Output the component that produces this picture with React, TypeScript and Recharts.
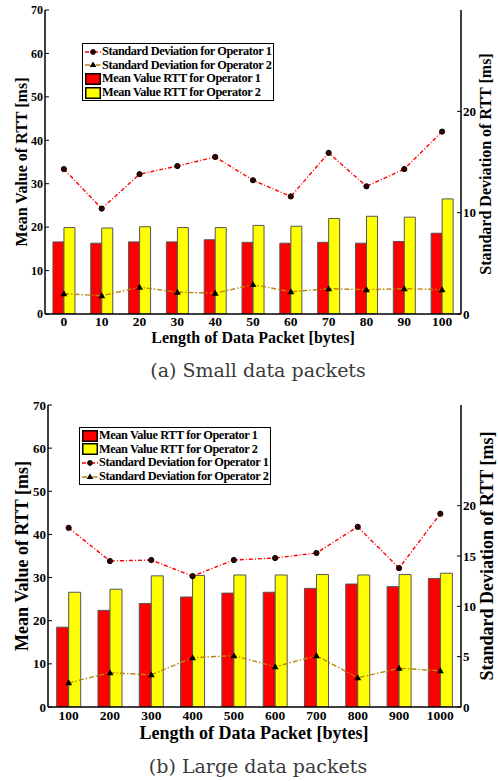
import React from 'react';
import { ComposedChart, Bar, Line, XAxis, YAxis, Legend } from 'recharts';

// (a) small packets
const smallSizes = ['0', '10', '20', '30', '40', '50', '60', '70', '80', '90', '100'];
const smallMean1 = [16.6, 16.3, 16.6, 16.6, 17.1, 16.5, 16.3, 16.5, 16.3, 16.7, 18.6];
const smallMean2 = [19.9, 19.8, 20.1, 19.9, 19.9, 20.4, 20.2, 22.0, 22.5, 22.3, 26.5];
const smallStd1 = [14.3, 10.4, 13.8, 14.6, 15.5, 13.2, 11.6, 15.9, 12.6, 14.3, 18.0];
const smallStd2 = [2.0, 1.8, 2.65, 2.15, 2.05, 2.9, 2.2, 2.5, 2.4, 2.5, 2.4];

// (b) large packets
const largeSizes = ['100', '200', '300', '400', '500', '600', '700', '800', '900', '1000'];
const largeMean1 = [18.5, 22.4, 24.0, 25.5, 26.4, 26.6, 27.5, 28.5, 27.9, 29.8];
const largeMean2 = [26.6, 27.3, 30.4, 30.5, 30.6, 30.6, 30.7, 30.6, 30.7, 31.0];
const largeStd1 = [17.8, 14.5, 14.6, 13.0, 14.6, 14.8, 15.3, 17.9, 13.8, 19.2];
const largeStd2 = [2.4, 3.4, 3.2, 4.9, 5.1, 4.0, 5.1, 2.9, 3.85, 3.6];

const leftTicks = [0, 10, 20, 30, 40, 50, 60, 70];
const smallRightTicks = [0, 10, 20];
const largeRightTicks = [0, 5, 10, 15, 20];

const FONT = '"Liberation Serif", "Times New Roman", serif';
const RED = '#ff0000';
const YELLOW = '#ffff00';
const GOLD = '#b8860b';
const DASH1 = '4 2 1 2';
const DASH2 = '5 2 1.5 2';

const buildRows = (sizes: string[], m1: number[], m2: number[], s1: number[], s2: number[]) =>
  sizes.map((size, i) => ({ size, mean1: m1[i], mean2: m2[i], std1: s1[i], std2: s2[i] }));

const CircleDot = (props: any) => {
  const { cx, cy, key } = props;
  if (cx == null || cy == null) return <g key={key} />;
  return <circle key={key} cx={cx} cy={cy} r={2.6} fill="#3a0000" stroke="#000" strokeWidth={1} />;
};

const TriangleDot = (props: any) => {
  const { cx, cy, key } = props;
  if (cx == null || cy == null) return <g key={key} />;
  return <path key={key} d={`M${cx},${cy - 3.5} L${cx + 3.5},${cy + 2.5} L${cx - 3.5},${cy + 2.5} Z`} fill="#000" />;
};

type LegendItem = { label: string; kind: 'std1' | 'std2' | 'mean1' | 'mean2' };

const LegendSymbol = ({ kind }: { kind: LegendItem['kind'] }) => {
  if (kind === 'mean1' || kind === 'mean2') {
    return (
      <svg width={16} height={12} style={{ display: 'block', marginRight: 1 }}>
        <rect x={0.75} y={0.75} width={14.5} height={10.5} fill={kind === 'mean1' ? RED : YELLOW} stroke="#000" strokeWidth={1.5} />
      </svg>
    );
  }
  const isOne = kind === 'std1';
  return (
    <svg width={16} height={12} style={{ display: 'block', marginRight: 1 }}>
      <line x1={0} y1={6} x2={16} y2={6} stroke={isOne ? RED : GOLD} strokeWidth={1.5} strokeDasharray={isOne ? DASH1 : DASH2} />
      {isOne ? (
        <circle cx={8} cy={6} r={2.4} fill="#3a0000" stroke="#000" />
      ) : (
        <path d="M8,2.5 L11.3,8 L4.7,8 Z" fill="#000" />
      )}
    </svg>
  );
};

const BoxLegend = ({ items }: { items: LegendItem[] }) => (
  <div
    style={{
      border: '1.5px solid #000',
      background: '#fff',
      padding: '1px 2px',
      fontFamily: FONT,
      fontWeight: 'bold',
      fontSize: 12.3,
      letterSpacing: -0.4,
      color: '#000',
      whiteSpace: 'nowrap',
    }}
  >
    {items.map((it) => (
      <div key={it.label} style={{ display: 'flex', alignItems: 'center', height: 13.6 }}>
        <LegendSymbol kind={it.kind} />
        <span>{it.label}</span>
      </div>
    ))}
  </div>
);

const std1Label = 'Standard Deviation for Operator 1';
const std2Label = 'Standard Deviation for Operator 2';
const mean1Label = 'Mean Value RTT for Operator 1';
const mean2Label = 'Mean Value RTT for Operator 2';

interface RttChartProps {
  rows: ReturnType<typeof buildRows>;
  rightTicks: number[];
  legendItems: LegendItem[];
  legendPos: { left: number; top: number };
  margin: { top: number; right: number; bottom: number; left: number };
  leftWidth: number;
  height: number;
  xTickMargin: number;
  leftTickSize: number;
}

const RttChart = ({ rows, rightTicks, legendItems, legendPos, margin, leftWidth, height, xTickMargin, leftTickSize }: RttChartProps) => (
  <ComposedChart width={498} height={height} data={rows} margin={margin} barGap={0} barCategoryGap="21%">
    <XAxis
      dataKey="size"
      tickLine={false}
      axisLine={{ stroke: '#000', strokeWidth: 1.5 }}
      tick={{ fill: '#000', fontFamily: FONT, fontWeight: 'bold', fontSize: 13.5 }}
      tickSize={0}
      tickMargin={xTickMargin}
      height={18}
      interval={0}
    />
    <XAxis xAxisId="top" dataKey="size" orientation="top" height={0} tick={false} tickLine={false} axisLine={{ stroke: '#000', strokeWidth: 1.2 }} />
    <YAxis
      yAxisId="left"
      domain={[0, 70]}
      ticks={leftTicks}
      width={leftWidth}
      tickSize={-4}
      tickMargin={6}
      tickLine={{ stroke: '#000' }}
      axisLine={{ stroke: '#000', strokeWidth: 1.5 }}
      tick={{ fill: '#000', fontFamily: FONT, fontWeight: 'bold', fontSize: leftTickSize }}
      allowDataOverflow
    />
    <YAxis
      yAxisId="mirror"
      orientation="right"
      domain={[0, 70]}
      ticks={leftTicks}
      width={0}
      tickSize={-4}
      tickLine={{ stroke: '#000' }}
      axisLine={false}
      tickFormatter={() => ''}
    />
    <YAxis
      yAxisId="right"
      orientation="right"
      domain={[0, 30]}
      ticks={rightTicks}
      width={30}
      tickSize={-4}
      tickMargin={6}
      tickLine={{ stroke: '#000' }}
      axisLine={{ stroke: '#000', strokeWidth: 1.5 }}
      tick={{ fill: '#000', fontFamily: FONT, fontWeight: 'bold', fontSize: 13, textAnchor: 'start' }}
      allowDataOverflow
    />
    <Legend
      layout="vertical"
      align="center"
      verticalAlign="middle"
      wrapperStyle={{ left: legendPos.left, top: legendPos.top, width: 'auto', height: 'auto' }}
      content={() => <BoxLegend items={legendItems} />}
    />
    <Bar yAxisId="left" dataKey="mean1" name={mean1Label} fill={RED} stroke="#555" strokeWidth={1} isAnimationActive={false} />
    <Bar yAxisId="left" dataKey="mean2" name={mean2Label} fill={YELLOW} stroke="#555" strokeWidth={1} isAnimationActive={false} />
    <Line
      yAxisId="right"
      type="linear"
      dataKey="std1"
      name={std1Label}
      stroke={RED}
      strokeWidth={1.4}
      strokeDasharray={DASH1}
      dot={CircleDot}
      activeDot={false}
      isAnimationActive={false}
    />
    <Line
      yAxisId="right"
      type="linear"
      dataKey="std2"
      name={std2Label}
      stroke={GOLD}
      strokeWidth={1.4}
      strokeDasharray={DASH2}
      dot={TriangleDot}
      activeDot={false}
      isAnimationActive={false}
    />
  </ComposedChart>
);

const titleStyle = (x: number, y: number, size: number, rotate: boolean): React.CSSProperties => ({
  position: 'absolute',
  left: x,
  top: y,
  transform: `translate(-50%, -50%)${rotate ? ' rotate(-90deg)' : ''}`,
  fontFamily: FONT,
  fontWeight: 'bold',
  fontSize: size,
  whiteSpace: 'nowrap',
  color: '#000',
  lineHeight: 1,
});

const captionStyle = (x: number, y: number): React.CSSProperties => ({
  position: 'absolute',
  left: x,
  top: y,
  transform: 'translate(-50%, -50%)',
  fontFamily: '"DejaVu Serif", serif',
  fontSize: 19,
  color: '#3a3a3a',
  whiteSpace: 'nowrap',
  lineHeight: 1,
});

export default function App() {
  const smallRows = buildRows(smallSizes, smallMean1, smallMean2, smallStd1, smallStd2);
  const largeRows = buildRows(largeSizes, largeMean1, largeMean2, largeStd1, largeStd2);

  return (
    <div style={{ position: 'absolute', left: 0, top: 0, width: 498, height: 781, background: '#fff' }}>
      <div style={{ position: 'absolute', left: 0, top: 0 }}>
        <RttChart
          rows={smallRows}
          rightTicks={smallRightTicks}
          legendItems={[
            { label: std1Label, kind: 'std1' },
            { label: std2Label, kind: 'std2' },
            { label: mean1Label, kind: 'mean1' },
            { label: mean2Label, kind: 'mean2' },
          ]}
          legendPos={{ left: 82, top: 43 }}
          margin={{ top: 10, right: 7, bottom: 58, left: 8 }}
          leftWidth={37}
          height={390}
          xTickMargin={2}
          leftTickSize={12}
        />
      </div>
      <div style={titleStyle(22, 162, 16, true)}>Mean Value of RTT [ms]</div>
      <div style={titleStyle(486, 164, 16, true)}>Standard Deviation of RTT [ms]</div>
      <div style={titleStyle(253, 338, 16, false)}>Length of Data Packet [bytes]</div>
      <div style={captionStyle(258, 370)}>(a) Small data packets</div>

      <div style={{ position: 'absolute', left: 0, top: 390 }}>
        <RttChart
          rows={largeRows}
          rightTicks={largeRightTicks}
          legendItems={[
            { label: mean1Label, kind: 'mean1' },
            { label: mean2Label, kind: 'mean2' },
            { label: std1Label, kind: 'std1' },
            { label: std2Label, kind: 'std2' },
          ]}
          legendPos={{ left: 79, top: 37 }}
          margin={{ top: 15, right: 7, bottom: 56, left: 8 }}
          leftWidth={40}
          height={391}
          xTickMargin={3}
          leftTickSize={13}
        />
      </div>
      <div style={titleStyle(22, 556, 18, true)}>Mean Value of RTT [ms]</div>
      <div style={titleStyle(487, 556, 18, true)}>Standard Deviation of RTT [ms]</div>
      <div style={titleStyle(254, 733, 18, false)}>Length of Data Packet [bytes]</div>
      <div style={captionStyle(258, 766)}>(b) Large data packets</div>
    </div>
  );
}
